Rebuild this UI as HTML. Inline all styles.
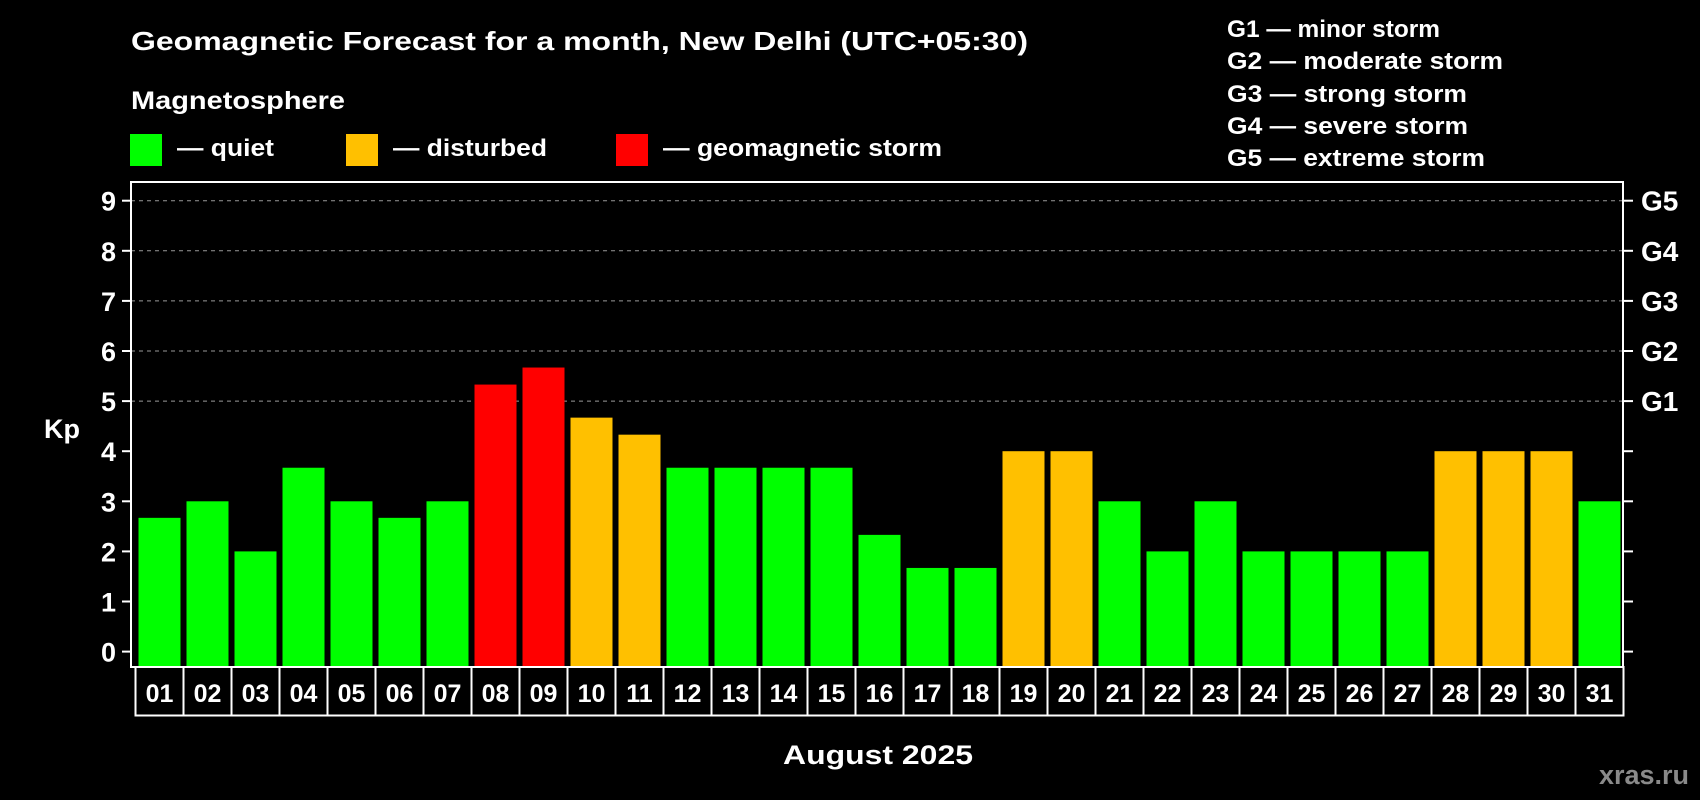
<!DOCTYPE html>
<html><head><meta charset="utf-8"><style>
html,body{margin:0;padding:0;background:#000;width:1700px;height:800px;overflow:hidden}
svg{display:block;font-family:"Liberation Sans",Arial,sans-serif;font-weight:bold}
</style></head><body>
<svg id="chart" width="1700" height="800" viewBox="0 0 1700 800">
<rect width="1700" height="800" fill="#000"/>
<text x="131" y="50" fill="#fff" font-size="26" textLength="897" lengthAdjust="spacingAndGlyphs">Geomagnetic Forecast for a month, New Delhi (UTC+05:30)</text>
<text x="131" y="109" fill="#fff" font-size="25" textLength="214" lengthAdjust="spacingAndGlyphs">Magnetosphere</text>
<g>
<rect x="130" y="134" width="32" height="32" fill="#00ff00"/>
<text x="177" y="156" fill="#fff" font-size="24" textLength="97" lengthAdjust="spacingAndGlyphs">— quiet</text></g>
<g>
<rect x="346" y="134" width="32" height="32" fill="#ffc000"/>
<text x="393" y="156" fill="#fff" font-size="24" textLength="154" lengthAdjust="spacingAndGlyphs">— disturbed</text></g>
<g>
<rect x="616" y="134" width="32" height="32" fill="#ff0000"/>
<text x="663" y="156" fill="#fff" font-size="24" textLength="279" lengthAdjust="spacingAndGlyphs">— geomagnetic storm</text></g>
<g fill="#fff" font-size="24">
<text x="1227" y="37" textLength="213" lengthAdjust="spacingAndGlyphs">G1 — minor storm</text>
<text x="1227" y="69" textLength="276" lengthAdjust="spacingAndGlyphs">G2 — moderate storm</text>
<text x="1227" y="102" textLength="240" lengthAdjust="spacingAndGlyphs">G3 — strong storm</text>
<text x="1227" y="134" textLength="241" lengthAdjust="spacingAndGlyphs">G4 — severe storm</text>
<text x="1227" y="166" textLength="258" lengthAdjust="spacingAndGlyphs">G5 — extreme storm</text>
</g>
<text x="62" y="438" fill="#fff" font-size="27" text-anchor="middle">Kp</text>
<text x="878" y="764" fill="#fff" font-size="27" text-anchor="middle" textLength="190" lengthAdjust="spacingAndGlyphs">August 2025</text>
<text x="1689" y="784" fill="#8a8a8a" font-size="27" text-anchor="end">xras.ru</text>
<g id="grid"></g><g id="bars"></g><g id="axes"></g>
</svg>
<script>
const days = ["01","02","03","04","05","06","07","08","09","10","11","12","13","14","15","16","17","18","19","20","21","22","23","24","25","26","27","28","29","30","31"];
const kpValues = [2.67,3,2,3.67,3,2.67,3,5.33,5.67,4.67,4.33,3.67,3.67,3.67,3.67,2.33,1.67,1.67,4,4,3,2,3,2,2,2,2,4,4,4,3];
const yTicks = [0,1,2,3,4,5,6,7,8,9];
const gLabels = ["G1","G2","G3","G4","G5"];
const gLevels = [5,6,7,8,9];

const NS = "http://www.w3.org/2000/svg";
const plotL = 131, plotR = 1623, plotT = 182, plotB = 667;
const catL = 135.5, catW = 48;
const y = v => 651.6 - v * 50.1;
const xc = i => catL + catW * (i + 0.5);
function mk(tag, attrs, parent) {
  const e = document.createElementNS(NS, tag);
  for (const k in attrs) e.setAttribute(k, attrs[k]);
  parent.appendChild(e);
  return e;
}
const grid = document.getElementById('grid'), bars = document.getElementById('bars'), axes = document.getElementById('axes');

gLevels.forEach((lv, i) => {
  const l = mk('line', {x1: plotL, x2: plotR, y1: y(lv), y2: y(lv), stroke: '#999', 'stroke-width': 1, 'stroke-dasharray': '4,4'}, grid);
  
  
  const t = mk('text', {x: 1641, y: y(lv) + 10, fill: '#fff', 'font-size': 28}, axes);
  t.textContent = gLabels[i];
  
  
});

kpValues.forEach((v, i) => {
  const col = v >= 5 ? '#ff0000' : (v >= 4 ? '#ffc000' : '#00ff00');
  const r = mk('rect', {x: xc(i) - 21, y: y(v), width: 42, height: plotB - 1 - y(v), fill: col}, bars);
  
  
});

const frame = mk('rect', {x: plotL, y: plotT, width: plotR - plotL, height: plotB - plotT, fill: 'none', stroke: '#fff', 'stroke-width': 2}, axes);



yTicks.forEach(t => {
  const a = mk('line', {x1: 122, x2: plotL, y1: y(t), y2: y(t), stroke: '#fff', 'stroke-width': 2}, axes);
  
  
  const b = mk('line', {x1: plotR, x2: plotR + 10, y1: y(t), y2: y(t), stroke: '#fff', 'stroke-width': 2}, axes);
  
  
  const lb = mk('text', {x: 116, y: y(t) + 10, fill: '#fff', 'font-size': 27, 'text-anchor': 'end'}, axes);
  lb.textContent = String(t);
  
  
});

days.forEach((d, i) => {
  const bx = mk('rect', {x: catL + catW * i, y: plotB, width: catW, height: 48.5, fill: 'none', stroke: '#fff', 'stroke-width': 2}, axes);
  
  
  const t = mk('text', {x: xc(i), y: 702, fill: '#fff', 'font-size': 25, 'text-anchor': 'middle'}, axes);
  t.textContent = d;
  
  
});
</script>
</body></html>
